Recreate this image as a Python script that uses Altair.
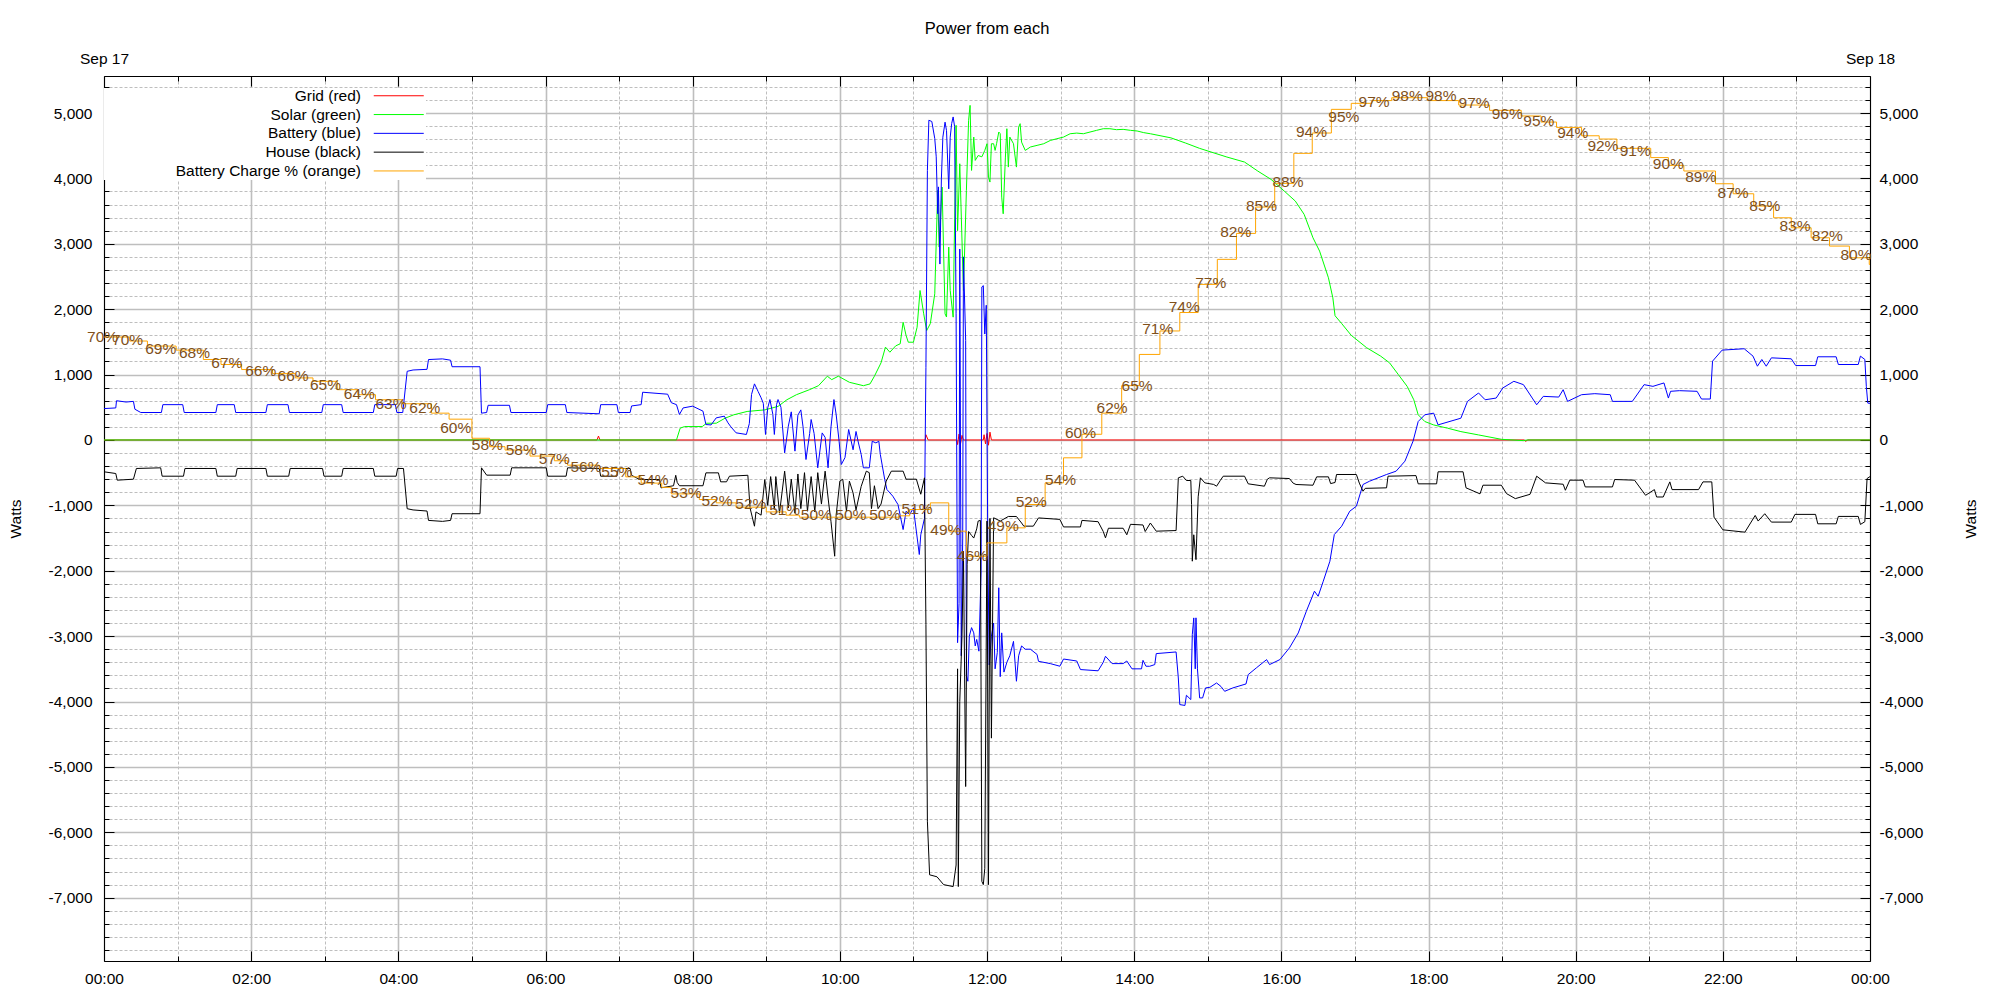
import altair as alt
import pandas as pd

FONT = "Liberation Sans"
W, H = 1766, 885
X_DOMAIN = [0, 24]
Y_DOMAIN = [-7968, 5566]

series_names = ["Grid (red)", "Solar (green)", "Battery (blue)", "House (black)", "Battery Charge % (orange)"]
series_colors = ["#ff0000", "#00ff00", "#0000ff", "#000000", "#ffa500"]

# (hour of day, watts)
grid_pts = [(0.00, 0), (6.70, 0), (6.72, 60), (6.74, 0), (11.16, 0), (11.17, 80), (11.20, 0),
            (11.59, 0), (11.60, -70), (11.62, 90), (11.64, -60), (11.66, 70), (11.68, 0),
            (11.95, 0), (11.96, 80), (11.98, -60), (12.00, 100), (12.02, -80), (12.04, 120),
            (12.06, 0), (19.30, 0), (19.32, -20), (19.35, 0), (24.00, 0)]

solar_pts = [(0.00, 0), (7.78, 0), (7.83, 180), (7.89, 205), (8.13, 205), (8.19, 256), (8.32, 256),
             (8.44, 333), (8.56, 385), (8.74, 436), (8.98, 460), (9.16, 513), (9.28, 615), (9.41, 692),
             (9.59, 770), (9.71, 830), (9.83, 975), (9.89, 923), (9.98, 975), (10.13, 882), (10.32, 830),
             (10.41, 857), (10.47, 975), (10.56, 1180), (10.62, 1420), (10.68, 1342), (10.76, 1440),
             (10.82, 1470), (10.86, 1800), (10.90, 1600), (10.93, 1495), (11.00, 1495), (11.05, 1724),
             (11.09, 2286), (11.14, 1929), (11.18, 1673), (11.23, 1780), (11.29, 2235), (11.33, 3816),
             (11.35, 2950), (11.39, 3867), (11.43, 1929), (11.45, 1880), (11.48, 2950), (11.50, 2286),
             (11.54, 1878), (11.58, 4811), (11.60, 3200), (11.63, 4224), (11.68, 2286), (11.72, 3816),
             (11.75, 4888), (11.77, 5117), (11.79, 4122), (11.82, 4632), (11.84, 4275), (11.88, 4350),
             (11.93, 4330), (11.97, 4428), (12.00, 4530), (12.02, 4020), (12.04, 3944), (12.06, 4530),
             (12.09, 4530), (12.11, 4428), (12.13, 4530), (12.16, 4709), (12.18, 4683), (12.20, 3714),
             (12.22, 3459), (12.25, 4326), (12.27, 4760), (12.29, 4173), (12.31, 4632), (12.36, 4530),
             (12.40, 4173), (12.43, 4785), (12.45, 4837), (12.47, 4555), (12.52, 4428), (12.59, 4480),
             (12.68, 4505), (12.77, 4530), (12.86, 4580), (12.95, 4607), (13.04, 4632), (13.13, 4683),
             (13.22, 4693), (13.31, 4683), (13.40, 4709), (13.49, 4735), (13.58, 4760), (13.67, 4760),
             (13.76, 4745), (13.85, 4750), (13.95, 4735), (14.04, 4725), (14.13, 4700), (14.22, 4683),
             (14.50, 4620), (14.70, 4540), (14.89, 4459), (15.26, 4327), (15.50, 4250), (15.68, 4112),
             (15.86, 3985), (16.04, 3806), (16.19, 3653), (16.31, 3450), (16.43, 3092), (16.52, 2888),
             (16.64, 2480), (16.70, 2174), (16.73, 1900), (16.82, 1780), (16.95, 1600), (17.16, 1410),
             (17.35, 1282), (17.47, 1180), (17.59, 1000), (17.71, 820), (17.80, 615), (17.86, 385),
             (17.95, 282), (18.07, 230), (18.26, 180), (18.44, 128), (18.68, 77), (18.99, 10),
             (19.29, -10), (19.35, 0), (24.00, 0)]

battery_pts = [(0.00, 480), (0.16, 490), (0.17, 600), (0.30, 580), (0.40, 590), (0.42, 470), (0.50, 420),
               (0.78, 420), (0.80, 540), (1.07, 540), (1.09, 420), (1.52, 420), (1.54, 540), (1.77, 540),
               (1.79, 420), (2.20, 420), (2.22, 540), (2.50, 540), (2.52, 420), (2.96, 420), (2.98, 540),
               (3.23, 540), (3.25, 420), (3.66, 420), (3.68, 540), (3.96, 540), (3.98, 420), (4.06, 420),
               (4.12, 1050), (4.20, 1070), (4.39, 1080), (4.41, 1230), (4.60, 1240), (4.71, 1220),
               (4.73, 1120), (5.11, 1120), (5.13, 410), (5.20, 420), (5.22, 530), (5.51, 530), (5.53, 420),
               (6.01, 420), (6.03, 540), (6.27, 540), (6.29, 420), (6.73, 400), (6.75, 540), (6.97, 540),
               (6.99, 420), (7.15, 420), (7.17, 520), (7.30, 540), (7.32, 730), (7.66, 700), (7.71, 570),
               (7.78, 540), (7.82, 390), (7.87, 490), (8.00, 517), (8.14, 441), (8.18, 236), (8.25, 230),
               (8.32, 338), (8.43, 364), (8.48, 262), (8.52, 200), (8.59, 109), (8.73, 84), (8.77, 250),
               (8.80, 696), (8.84, 858), (8.89, 740), (8.93, 645), (8.96, 560), (8.99, 84), (9.02, 491),
               (9.05, 618), (9.09, 390), (9.11, 84), (9.14, 542), (9.16, 618), (9.20, 500), (9.25, -197),
               (9.30, 211), (9.34, 430), (9.39, -171), (9.43, 380), (9.47, 460), (9.50, 200), (9.54, -299),
               (9.59, 100), (9.61, 313), (9.65, 100), (9.70, -426), (9.76, 108), (9.80, 40), (9.84, -426),
               (9.88, 200), (9.92, 618), (9.95, 390), (9.99, -20), (10.02, -375), (10.07, -270),
               (10.12, 160), (10.18, -150), (10.22, 130), (10.25, -30), (10.29, -220), (10.32, -426),
               (10.40, -426), (10.44, -20), (10.49, -45), (10.53, -20), (10.55, -220), (10.61, -605),
               (10.64, -758), (10.72, -860), (10.79, -987), (10.86, -1370), (10.90, -1090), (10.95, -1140),
               (11.00, -1040), (11.08, -1752), (11.10, -1450), (11.15, -1200), (11.17, 1110), (11.19, 4120),
               (11.21, 4890), (11.25, 4870), (11.29, 4610), (11.31, 4330), (11.33, 3460), (11.34, 3870),
               (11.36, 2690), (11.38, 3990), (11.40, 4630), (11.43, 4860), (11.45, 4730), (11.48, 3840),
               (11.50, 4630), (11.52, 4840), (11.54, 4940), (11.56, 4790), (11.58, 1930), (11.60, -3100),
               (11.62, -2500), (11.63, 2920), (11.65, -3300), (11.67, -1500), (11.68, 2800), (11.71, 1520),
               (11.72, -3600), (11.74, -3690), (11.76, -3000), (11.79, -2870), (11.82, -2950),
               (11.84, -3150), (11.86, -3050), (11.89, -3230), (11.92, -2000), (11.93, 2340),
               (11.95, 2360), (11.97, 1620), (11.99, 2060), (12.01, -1500), (12.03, -3440), (12.06, -3000),
               (12.09, -2800), (12.11, -3500), (12.14, -3250), (12.16, -2260), (12.18, -3620),
               (12.20, -2950), (12.23, -3550), (12.27, -3400), (12.31, -3300), (12.36, -3080),
               (12.40, -3690), (12.43, -3300), (12.47, -3150), (12.52, -3200), (12.59, -3200),
               (12.68, -3280), (12.70, -3385), (12.86, -3420), (12.99, -3460), (13.04, -3350),
               (13.22, -3380), (13.27, -3511), (13.51, -3530), (13.58, -3400), (13.61, -3308),
               (13.70, -3420), (13.85, -3420), (13.90, -3380), (13.97, -3500), (14.10, -3500),
               (14.12, -3370), (14.16, -3460), (14.21, -3461), (14.28, -3435), (14.30, -3267),
               (14.57, -3242), (14.60, -3640), (14.62, -4047), (14.69, -4060), (14.71, -3904),
               (14.77, -3970), (14.79, -2976), (14.81, -2721), (14.83, -3500), (14.84, -2720),
               (14.86, -3500), (14.89, -3945), (14.93, -3945), (14.97, -3792), (15.03, -3782),
               (15.12, -3716), (15.18, -3770), (15.23, -3844), (15.34, -3792), (15.52, -3731),
               (15.55, -3588), (15.66, -3486), (15.80, -3359), (15.84, -3435), (15.98, -3359),
               (16.11, -3180), (16.23, -2951), (16.34, -2619), (16.45, -2313), (16.50, -2390),
               (16.57, -2160), (16.66, -1854), (16.72, -1446), (16.82, -1319), (16.93, -1089),
               (17.02, -1013), (17.11, -681), (17.20, -630), (17.43, -528), (17.56, -477), (17.68, -324),
               (17.79, -18), (17.86, 282), (17.95, 385), (18.07, 410), (18.13, 231), (18.44, 333),
               (18.53, 590), (18.68, 718), (18.77, 615), (18.92, 641), (19.01, 795), (19.16, 897),
               (19.29, 846), (19.41, 641), (19.47, 538), (19.56, 667), (19.77, 656), (19.83, 769),
               (19.89, 590), (20.08, 692), (20.26, 708), (20.47, 692), (20.50, 590), (20.77, 590),
               (20.93, 846), (21.05, 820), (21.20, 872), (21.26, 641), (21.29, 744), (21.41, 754),
               (21.65, 744), (21.71, 626), (21.83, 626), (21.86, 1205), (21.99, 1374), (22.29, 1395),
               (22.41, 1282), (22.47, 1128), (22.53, 1231), (22.59, 1128), (22.66, 1256), (22.93, 1241),
               (22.99, 1138), (23.26, 1138), (23.29, 1272), (23.54, 1272), (23.57, 1154), (23.84, 1154),
               (23.87, 1282), (23.93, 1231), (23.95, 820), (23.97, 564), (24.00, 560)]

house_pts = [(0.00, -487), (0.16, -513), (0.18, -615), (0.40, -600), (0.44, -436), (0.77, -426),
             (0.79, -554), (1.08, -554), (1.10, -436), (1.52, -436), (1.54, -554), (1.79, -554),
             (1.81, -436), (2.20, -436), (2.22, -554), (2.51, -554), (2.53, -436), (2.97, -436),
             (2.99, -554), (3.23, -554), (3.25, -436), (3.66, -436), (3.68, -554), (3.97, -554),
             (3.99, -436), (4.07, -436), (4.12, -1051), (4.20, -1070), (4.39, -1087), (4.41, -1230),
             (4.60, -1245), (4.71, -1230), (4.73, -1128), (5.11, -1128), (5.13, -426), (5.20, -538),
             (5.52, -538), (5.54, -426), (6.01, -426), (6.03, -554), (6.28, -554), (6.30, -426),
             (6.73, -436), (6.75, -554), (6.97, -554), (6.99, -436), (7.15, -436), (7.17, -540),
             (7.28, -605), (7.55, -605), (7.57, -732), (7.74, -700), (7.77, -540), (7.79, -650),
             (7.82, -700), (8.14, -700), (8.18, -503), (8.35, -503), (8.38, -640), (8.46, -640),
             (8.50, -554), (8.75, -540), (8.78, -1040), (8.84, -1319), (8.86, -1100), (8.93, -1150),
             (8.98, -605), (9.02, -1000), (9.06, -560), (9.11, -1060), (9.13, -560), (9.18, -1120),
             (9.25, -477), (9.30, -1040), (9.34, -600), (9.39, -1120), (9.43, -520), (9.47, -1050),
             (9.52, -500), (9.56, -1090), (9.61, -560), (9.66, -1100), (9.70, -500), (9.75, -980),
             (9.80, -477), (9.85, -980), (9.88, -1250), (9.93, -1778), (9.95, -1150), (10.00, -630),
             (10.04, -600), (10.09, -1090), (10.13, -630), (10.18, -810), (10.22, -1070), (10.29, -710),
             (10.36, -477), (10.40, -500), (10.43, -1050), (10.47, -700), (10.52, -1050), (10.56, -980),
             (10.63, -630), (10.70, -477), (10.86, -477), (10.90, -600), (11.04, -600), (11.10, -830),
             (11.15, -579), (11.17, -2820), (11.19, -5830), (11.22, -6650), (11.32, -6680),
             (11.41, -6800), (11.54, -6830), (11.58, -6500), (11.60, -3500), (11.61, -6830),
             (11.63, -4000), (11.66, -3000), (11.68, -1700), (11.71, -5300), (11.73, -1900),
             (11.75, -1400), (11.79, -1460), (11.82, -1500), (11.86, -1360), (11.88, -1240),
             (11.91, -1230), (11.93, -6750), (11.95, -6800), (11.97, -6550), (12.00, -1240),
             (12.02, -6800), (12.04, -1200), (12.06, -4560), (12.09, -1190), (12.18, -1240),
             (12.29, -1170), (12.40, -1170), (12.47, -1270), (12.50, -1318), (12.63, -1318),
             (12.70, -1192), (12.99, -1215), (13.04, -1330), (13.27, -1330), (13.29, -1230),
             (13.51, -1250), (13.58, -1400), (13.61, -1497), (13.65, -1350), (13.85, -1350),
             (13.90, -1450), (13.95, -1290), (14.12, -1300), (14.15, -1400), (14.22, -1270),
             (14.30, -1395), (14.57, -1385), (14.60, -579), (14.66, -554), (14.71, -620), (14.77, -620),
             (14.78, -987), (14.79, -1854), (14.81, -1450), (14.84, -1830), (14.85, -1500), (14.87, -870),
             (14.90, -579), (14.96, -656), (15.08, -680), (15.12, -707), (15.17, -620), (15.21, -554),
             (15.50, -554), (15.55, -671), (15.77, -707), (15.81, -600), (15.84, -579), (16.11, -590),
             (16.16, -660), (16.20, -681), (16.43, -692), (16.48, -564), (16.64, -564), (16.67, -667),
             (16.73, -650), (16.75, -528), (17.02, -528), (17.06, -660), (17.11, -784), (17.14, -740),
             (17.43, -732), (17.45, -554), (17.83, -545), (17.86, -671), (18.11, -671), (18.13, -487),
             (18.47, -487), (18.51, -732), (18.70, -824), (18.74, -692), (18.99, -692), (19.06, -820),
             (19.18, -897), (19.38, -831), (19.47, -554), (19.59, -656), (19.83, -677), (19.86, -769),
             (19.92, -615), (20.10, -615), (20.13, -718), (20.50, -718), (20.53, -605), (20.80, -615),
             (20.95, -846), (21.07, -759), (21.10, -872), (21.19, -872), (21.28, -641), (21.31, -759),
             (21.67, -759), (21.73, -641), (21.85, -641), (21.88, -1180), (22.00, -1374), (22.30, -1410),
             (22.44, -1154), (22.48, -1240), (22.57, -1128), (22.66, -1256), (22.93, -1256),
             (22.98, -1138), (23.26, -1138), (23.29, -1282), (23.54, -1282), (23.57, -1169),
             (23.84, -1169), (23.87, -1292), (23.93, -1250), (23.96, -590), (24.00, -560)]

# battery charge, drawn on the watts axis as a step line
charge_pts = [(0.00, 1574), (0.35, 1513), (0.59, 1436), (0.98, 1374), (1.35, 1231), (1.59, 1154),
              (1.87, 1077), (2.29, 1015), (2.60, 949), (2.84, 897), (3.17, 769), (3.45, 692), (3.69, 615),
              (4.05, 554), (4.45, 410), (4.69, 318), (5.00, 26), (5.24, -103), (5.45, -154), (5.79, -246),
              (6.12, -318), (6.30, -385), (6.73, -436), (7.09, -564), (7.30, -660), (7.58, -725),
              (7.71, -825), (8.09, -911), (8.32, -962), (8.59, -1028), (9.00, -1100), (9.27, -1150),
              (9.45, -1181), (10.81, -1160), (10.95, -1064), (11.23, -962), (11.48, -1395), (11.72, -1778),
              (12.00, -1574), (12.27, -1344), (12.52, -987), (12.79, -656), (13.04, -273), (13.29, 87),
              (13.56, 410), (13.83, 831), (14.07, 1308), (14.35, 1667), (14.62, 1949), (14.87, 2379),
              (15.13, 2762), (15.39, 3159), (15.65, 3562), (15.91, 3924), (16.17, 4383), (16.42, 4694),
              (16.68, 5056), (16.95, 5148), (17.23, 5190), (17.50, 5234), (17.99, 5190), (18.41, 5122),
              (18.83, 5041), (19.26, 4955), (19.53, 4862), (19.74, 4780), (20.08, 4652), (20.32, 4602),
              (20.56, 4460), (21.02, 4318), (21.26, 4200), (21.47, 4113), (21.90, 3918), (22.14, 3765),
              (22.42, 3577), (22.69, 3398), (22.93, 3245), (23.20, 3092), (23.45, 2965), (23.72, 2786),
              (23.99, 2684), (24.00, 2684)]

label_t = [-0.02, 0.32, 0.77, 1.23, 1.67, 2.13, 2.57, 3.01, 3.47, 3.90, 4.36, 4.78, 5.21, 5.67, 6.12,
           6.55, 6.97, 7.46, 7.91, 8.33, 8.79, 9.25, 9.68, 10.15, 10.61, 11.05, 11.44, 11.80, 12.22,
           12.60, 13.00, 13.27, 13.70, 14.04, 14.32, 14.68, 15.04, 15.38, 15.73, 16.09, 16.41, 16.85,
           17.26, 17.71, 18.17, 18.62, 19.07, 19.50, 19.96, 20.37, 20.81, 21.26, 21.70, 22.14, 22.57,
           22.98, 23.42, 23.81]
label_w = [1580, 1528, 1385, 1323, 1180, 1051, 974, 846, 703, 554, 487, 190, -77, -154, -297, -410, -487,
           -615, -810, -933, -985, -1077, -1144, -1144, -1144, -1051, -1374, -1769, -1323, -949, -615,
           103, 487, 831, 1692, 2026, 2403, 3180, 3577, 3944, 4714, 4939, 5174, 5260, 5260, 5158, 4990,
           4877, 4699, 4495, 4419, 4215, 4021, 3781, 3577, 3271, 3118, 2827]
label_pct = [70, 70, 69, 68, 67, 66, 66, 65, 64, 63, 62, 60, 58, 58, 57, 56, 55, 54, 53, 52, 52, 51, 50,
             50, 50, 51, 49, 46, 49, 52, 54, 60, 62, 65, 71, 74, 77, 82, 85, 88, 94, 95, 97, 98, 98, 97,
             96, 95, 94, 92, 91, 90, 89, 87, 85, 83, 82, 80]

hour_major = list(range(0, 25, 2))
hour_minor = list(range(1, 24, 2))
hour_all = list(range(0, 25))
watt_all = list(range(-7800, 5600, 200))
watt_major = [v for v in watt_all if v % 1000 == 0]
watt_minor = [v for v in watt_all if v % 1000 != 0]
date_labels = ["Sep 17", "Sep 18"]

GRID = "#bebebe"
LABEL_BROWN = "#80501a"
xscale = alt.Scale(domain=X_DOMAIN, nice=False, zero=False)
yscale = alt.Scale(domain=Y_DOMAIN, nice=False, zero=False)
cscale = alt.Scale(domain=series_names, range=series_colors)

legend = alt.Legend(title=None, orient="none", legendX=0, legendY=12, direction="vertical", padding=0,
                    fillColor="white", symbolType="M-5,0H5", symbolSize=100, symbolStrokeWidth=1,
                    labelAlign="right", labelOffset={"expr": "-45.5"}, symbolOffset=287, labelFont=FONT,
                    labelFontSize=15.5, labelColor="black", rowPadding=1.8, labelLimit=400)

hour_fmt = "((datum.value % 24) < 10 ? '0' : '') + (datum.value % 24) + ':00'"
watt_fmt = "(datum.value < 0 ? '-' : '') + format(abs(datum.value), ',')"
even_h = "datum.value % 2 == 0"
major_w = "datum.value % 1000 == 0"

common = dict(labelFont=FONT, labelFontSize=15.5, labelColor="black", title=None)

x_main = alt.Axis(orient="bottom", values=hour_all, ticks=False, tickSize=0, domain=True, domainColor="black",
                  labelExpr=f"{even_h} ? {hour_fmt} : ''", labelPadding=10, labelFlush=False,
                  labelOverlap=False, grid=True, gridColor=GRID,
                  gridWidth={"condition": {"test": even_h, "value": 1.6}, "value": 1},
                  gridDash={"condition": {"test": even_h, "value": []}, "value": [3, 2]}, **common)
x_top = alt.Axis(orient="top", values=[0, 24], ticks=False, tickSize=0, domain=True, domainColor="black",
                 labelExpr=f"datum.value == 0 ? '{date_labels[0]}' : '{date_labels[1]}'", labelPadding=10,
                 labelFlush=False, labelOverlap=False, grid=False, **common)
y_left = alt.Axis(orient="left", values=watt_all, ticks=False, tickSize=0, domain=True, domainColor="black",
                  labelExpr=f"{major_w} ? {watt_fmt} : ''", labelPadding=12, labelOverlap=False,
                  grid=True, gridColor=GRID,
                  gridWidth={"condition": {"test": major_w, "value": 1.6}, "value": 1},
                  gridDash={"condition": {"test": major_w, "value": []}, "value": [3, 2]},
                  labelFont=FONT, labelFontSize=15.5, labelColor="black",
                  title="Watts", titleX=-88.5, titleY=H / 2, titleAngle=270, titleBaseline="middle",
                  titleFont=FONT, titleFontSize=15.5, titleFontWeight="normal", titleColor="black")
y_right = alt.Axis(orient="right", values=watt_major, ticks=False, tickSize=0, domain=True,
                   domainColor="black", labelExpr=watt_fmt, labelPadding=9, labelOverlap=False, grid=False,
                   labelFont=FONT, labelFontSize=15.5, labelColor="black",
                   title="Watts", titleX=100, titleY=H / 2, titleAngle=270, titleBaseline="middle",
                   titleFont=FONT, titleFontSize=15.5, titleFontWeight="normal", titleColor="black")


def tick_axis(orient, offset, values, size):
    return alt.Axis(orient=orient, offset=offset, values=values, labels=False, domain=False, grid=False,
                    ticks=True, tickSize=size, tickColor="black", tickWidth=1, title=None)


def series_layer(pts, name, xaxis, yaxis, interp="linear"):
    df = pd.DataFrame(pts, columns=["t", "w"])
    df["series"] = name
    df["i"] = range(len(df))
    return alt.Chart(df).mark_line(strokeWidth=1, interpolate=interp).encode(
        x=alt.X("t:Q", scale=xscale, axis=xaxis),
        y=alt.Y("w:Q", scale=yscale, axis=yaxis),
        color=alt.Color("series:N", scale=cscale, legend=legend),
        order=alt.Order("i:Q"),
    )


red = series_layer(grid_pts, series_names[0], x_main, y_left)
green = series_layer(solar_pts, series_names[1], x_top, y_right)
blue = series_layer(battery_pts, series_names[2],
                    tick_axis("top", -H, hour_major, 10), tick_axis("right", -W, watt_major, 10))
black = series_layer(house_pts, series_names[3],
                     tick_axis("top", -H, hour_minor, 5), tick_axis("right", -W, watt_minor, 5))
orange = series_layer(charge_pts, series_names[4],
                      tick_axis("bottom", -H, hour_major, 10), tick_axis("left", -W, watt_major, 10),
                      interp="step-after")

lab_df = pd.DataFrame({"t": label_t, "w": label_w, "txt": [f"{p}%" for p in label_pct]})
labels = alt.Chart(lab_df).mark_text(font=FONT, fontSize=15.5, color=LABEL_BROWN, align="center",
                                     baseline="middle").encode(
    x=alt.X("t:Q", scale=xscale, axis=tick_axis("bottom", -H, hour_minor, 5)),
    y=alt.Y("w:Q", scale=yscale, axis=tick_axis("left", -W, watt_minor, 5)),
    text="txt:N",
)

chart = alt.layer(red, green, blue, black, orange, labels).resolve_axis(
    x="independent", y="independent"
).properties(
    width=W, height=H,
    padding={"left": 96, "top": 68, "right": 114, "bottom": 28},
    autosize=alt.AutoSizeParams(type="none"),
    title=alt.TitleParams("Power from each", font=FONT, fontSize=16.5, fontWeight="normal",
                          color="black", anchor="middle", frame="group", offset=14),
).configure_view(stroke=None).configure(background="white")

chart.save("out.html", embed_options={"renderer": "svg", "actions": False})
